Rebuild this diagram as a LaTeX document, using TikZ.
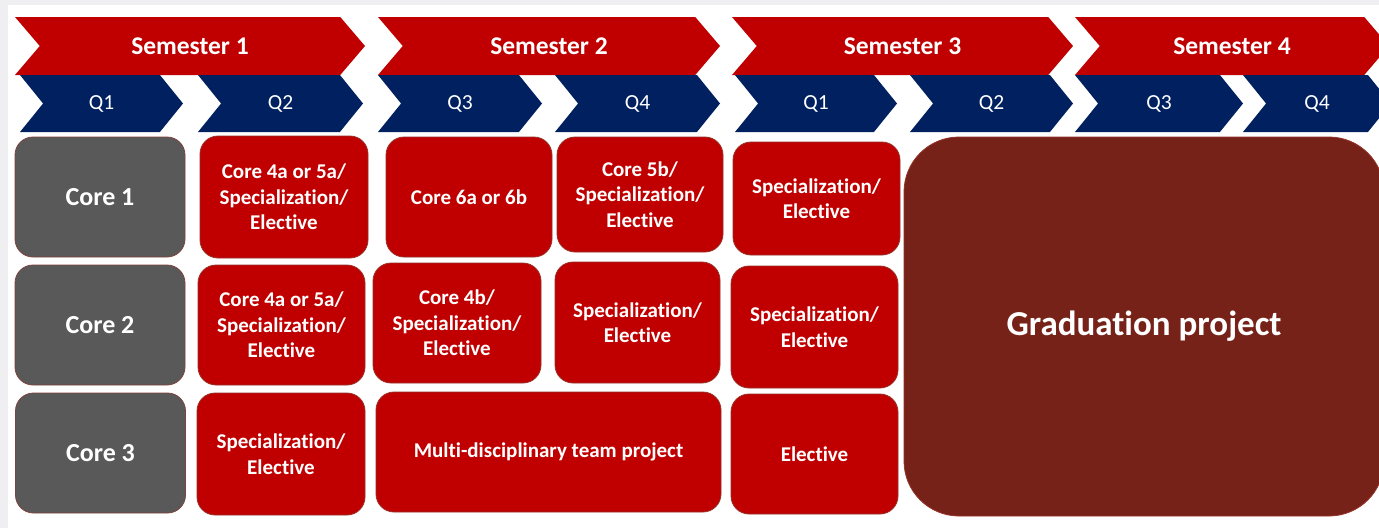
\documentclass[tikz,border=0pt]{standalone}
\usepackage{fontspec}
\setmainfont{Carlito}[Ligatures=CommonOff]
\usetikzlibrary{shapes.symbols}
\definecolor{SemRed}{RGB}{192, 0, 0}
\definecolor{QNavy}{RGB}{0, 32, 96}
\definecolor{CoreGray}{RGB}{89, 89, 89}
\definecolor{GradBrown}{RGB}{118, 34, 24}
\definecolor{EdgeBrown}{RGB}{150, 50, 40}
\definecolor{FrameGray}{RGB}{239, 239, 242}
\begin{document}
\begin{tikzpicture}[
          x=1pt, y=-1pt,
          semester/.style={
            signal,
            signal from=west,
            signal to=east,
            signal pointer angle=99,
            fill=SemRed,
            text=white,
            inner sep=0pt,
            minimum height=58pt,
            font=\bfseries\fontsize{25.5}{30}\selectfont
          },
          quarter/.style={
            semester,
            signal pointer angle=102,
            fill=QNavy,
            minimum height=57pt,
            font=\fontsize{21.5}{26}\selectfont
          },
          course/.style={
            rounded corners=18pt,
            fill=SemRed,
            draw=EdgeBrown,
            line width=0.8pt,
            text=white,
            align=center,
            inner sep=0pt,
            minimum width=167pt,
            minimum height=120pt,
            font=\bfseries\fontsize{21}{25.5}\selectfont
          },
          core/.style={
            course,
            fill=CoreGray,
            draw=EdgeBrown!60!CoreGray,
            minimum width=170pt,
            font=\bfseries\fontsize{26}{30}\selectfont
          }
        ]
        \useasboundingbox[fill=FrameGray] (0,0) rectangle (1379,528);
        \fill[white] (8,5) rectangle (1379,528);
        \node[semester, minimum width=350pt] (sem1) at (190,46) {Semester 1};
        \node[semester, minimum width=342pt] (sem2) at (549,46) {Semester 2};
        \node[semester, minimum width=341pt] (sem3) at (902.5,46) {Semester 3};
        \node[semester, minimum width=314pt] (sem4) at (1232,46) {Semester 4};
        \node[quarter, minimum width=163pt] (q1a) at (101.5,103.5) {Q1};
        \node[quarter, minimum width=165pt] (q2a) at (280.5,103.5) {Q2};
        \node[quarter, minimum width=164pt] (q3a) at (460,103.5) {Q3};
        \node[quarter, minimum width=165pt] (q4a) at (637.5,103.5) {Q4};
        \node[quarter, minimum width=162pt] (q1b) at (816,103.5) {Q1};
        \node[quarter, minimum width=163pt] (q2b) at (991.5,103.5) {Q2};
        \node[quarter, minimum width=168pt] (q3b) at (1159,103.5) {Q3};
        \node[quarter, minimum width=148pt] (q4b) at (1317,103.5) {Q4};
        \node[core] (core1) at (100,197) {Core 1};
        \node[core] (core2) at (100,325) {Core 2};
        \node[core] (core3) at (100.5,453) {Core 3};
        \node[course, minimum width=168pt, minimum height=122pt] (q2top) at (284,197) {Core 4a or 5a/\\Specialization/\\Elective};
        \node[course] (q2mid) at (281.5,325) {Core 4a or 5a/\\Specialization/\\Elective};
        \node[course, minimum width=168pt, minimum height=122pt] (q2low) at (281,454) {Specialization/\\Elective};
        \node[course, minimum width=166pt] (q3top) at (469,197) {Core 6a or 6b};
        \node[course, minimum width=168pt] (q3mid) at (457,323) {Core 4b/\\Specialization/\\Elective};
        \node[course, minimum width=166pt, minimum height=115pt] (q4top) at (640,194.5) {Core 5b/\\Specialization/\\Elective};
        \node[course, minimum width=165pt, minimum height=121pt] (q4mid) at (637.5,322.5) {Specialization/\\Elective};
        \node[course, minimum width=345pt] (mdtp) at (548.5,452) {Multi-disciplinary team project};
        \node[course, minimum height=113pt] (q1top) at (816.5,198.5) {Specialization/\\Elective};
        \node[course, minimum height=122pt] (q1mid) at (814.5,327) {Specialization/\\Elective};
        \node[course] (q1low) at (814.5,454) {Elective};
        \node[course, rounded corners=55pt, fill=GradBrown, minimum width=480pt, minimum height=379pt,
              font=\bfseries\fontsize{35}{42}\selectfont] (grad) at (1144,326.5) {Graduation project};
      \end{tikzpicture}
\end{document}
